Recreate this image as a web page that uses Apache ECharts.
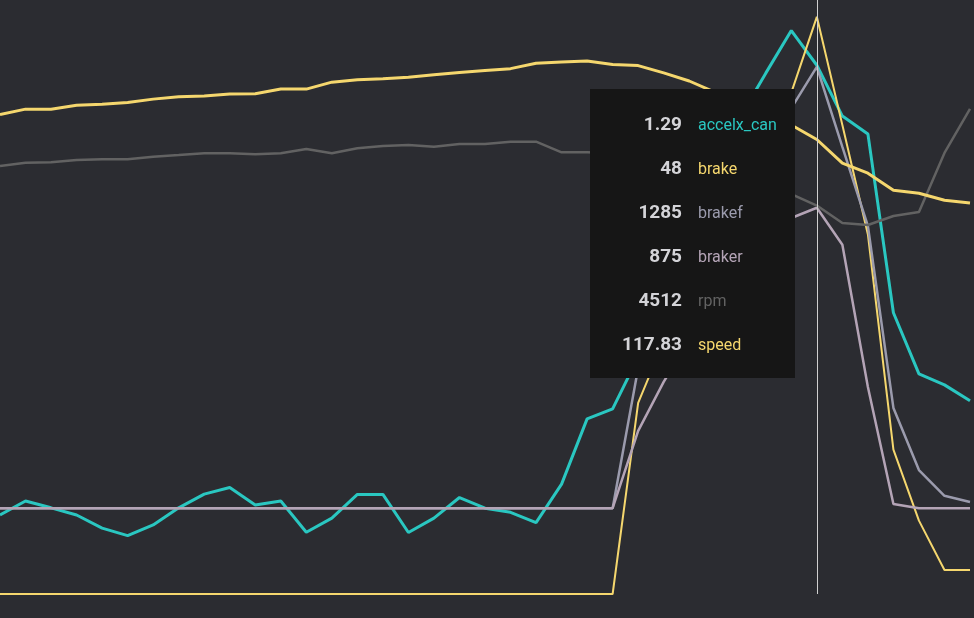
<!DOCTYPE html>
<html>
<head>
<meta charset="utf-8">
<script src="https://cdn.jsdelivr.net/npm/echarts@6/dist/echarts.min.js"></script>
<style>
	html,body{margin:0;padding:0;background:#2b2c31;}
	#main{width:974px;height:618px;}
</style>
</head>
<body>
<div id="main"></div>
<script>
// sample index along the lap (x axis, hidden)
var samples = ['0','1','2','3','4','5','6','7','8','9','10','11','12','13','14','15','16','17','18','19',
	'20','21','22','23','24','25','26','27','28','29','30','31','32','33','34','35','36','37','38'];

var accelx_can = [-0.02, 0.021, 0.001, -0.02, -0.058, -0.08, -0.049, 0.001, 0.041, 0.06,
	0.009, 0.021, -0.07, -0.029, 0.04, 0.04, -0.071, -0.029, 0.031, 0,
	-0.012, -0.042, 0.07, 0.26, 0.289, 0.44, 0.64, 0.83, 1.01, 1.14,
	1.267, 1.391, 1.29, 1.142, 1.09, 0.569, 0.391, 0.359, 0.313];
var brake = [0, 0, 0, 0, 0, 0, 0, 0, 0, 0,
	0, 0, 0, 0, 0, 0, 0, 0, 0, 0,
	0, 0, 0, 0, 0, 15.9, 21, 25.3, 29.4, 34,
	38.2, 41.7, 48, 39, 29.9, 12, 6.1, 2, 2];
var brakef = [0, 0, 0, 0, 0, 0, 0, 0, 0, 0,
	0, 0, 0, 0, 0, 0, 0, 0, 0, 0,
	0, 0, 0, 0, 0, 408, 548, 694, 839, 970,
	1072, 1165, 1285, 1052, 822, 292, 111, 36, 18];
var braker = [0, 0, 0, 0, 0, 0, 0, 0, 0, 0,
	0, 0, 0, 0, 0, 0, 0, 0, 0, 0,
	0, 0, 0, 0, 0, 225, 368, 490, 607, 709,
	787, 845, 875, 767, 353, 12, 0, 0, 0];
var rpm = [4972, 5010, 5015, 5041, 5049, 5049, 5080, 5099, 5119, 5119,
	5108, 5119, 5169, 5119, 5177, 5204, 5216, 5196, 5227, 5227,
	5254, 5254, 5131, 5131, 5123, 5099, 5041, 4972, 4891, 4809,
	4728, 4646, 4512, 4310, 4286, 4391, 4437, 5123, 5634];
var speed = [124.3, 125.7, 125.7, 126.7, 127.0, 127.4, 128.3, 128.9, 129.1, 129.6,
	129.7, 130.9, 130.9, 132.7, 133.3, 133.6, 134.0, 134.6, 135.2, 135.7,
	136.2, 137.6, 137.9, 138.2, 137.3, 137.0, 135.1, 133.0, 130.1, 127.3,
	124.4, 121.6, 117.83, 111.7, 109.1, 104.7, 103.9, 102.1, 101.4];

var cursorIndex = 32;

var colors = {
	accelx_can:'#2ac7c1',
	brake:'#f5d76e',
	brakef:'#9b9bad',
	braker:'#b4a4b6',
	rpm:'#626262',
	speed:'#f5d76e'
};

function hiddenAxis(min,max){
	return {type:'value', show:false, min:min, max:max, splitLine:{show:false}};
}

function line(name,data,axis,width){
	return {
		name:name,
		type:'line',
		yAxisIndex:axis,
		data:data,
		symbol:'none',
		silent:true,
		emphasis:{disabled:true},
		color:colors[name],
		lineStyle:{color:colors[name],width:width}
	};
}

var option = {
	backgroundColor:'#2b2c31',
	animation:false,
	grid:{left:-2,right:4,top:0,bottom:24},
	xAxis:{
		type:'category',
		data:samples,
		boundaryGap:false,
		axisLine:{show:false},
		axisTick:{show:false},
		axisLabel:{show:false},
		splitLine:{show:false}
	},
	//每个通道单独一根隐藏的y轴
	yAxis:[
		hiddenAxis(-0.25,1.48),
		hiddenAxis(0,49.4),
		hiddenAxis(-250,1480),
		hiddenAxis(0,6900),
		hiddenAxis(0,154)
	],
	tooltip:{
		trigger:'axis',
		triggerOn:'none',
		alwaysShowContent:true,
		transitionDuration:0,
		backgroundColor:'#161616',
		borderWidth:0,
		borderRadius:0,
		padding:0,
		extraCssText:'box-shadow:none;border-radius:0;',
		axisPointer:{
			type:'line',
			animation:false,
			lineStyle:{color:'#d0d0d0',width:1,type:'solid'}
		},
		position:function(pt,params,dom,rect,size){
			return [pt[0] - size.contentSize[0] - 22, 89];
		},
		formatter:function(ps){
			var s = '<div style="width:205px;padding:13px 0 12px 0;font-family:Roboto,sans-serif;">';
			for(var i=0;i<ps.length;i++){
				var p = ps[i];
				s += '<div style="height:44px;line-height:44px;white-space:nowrap;">';
				s += '<span style="display:inline-block;width:92px;text-align:right;font-weight:bold;font-size:19px;color:#d4d4d8;">' + p.value + '</span>';
				s += '<span style="margin-left:16px;font-size:16px;color:' + colors[p.seriesName] + ';">' + p.seriesName + '</span>';
				s += '</div>';
			}
			s += '</div>';
			return s;
		}
	},
	series:[
		line('accelx_can',accelx_can,0,3),
		line('brake',brake,1,2),
		line('brakef',brakef,2,2.5),
		line('braker',braker,2,2.5),
		line('rpm',rpm,3,2.5),
		line('speed',speed,4,3)
	]
};

var myChart = echarts.init(document.getElementById('main'));
myChart.setOption(option);
myChart.dispatchAction({type:'showTip',seriesIndex:0,dataIndex:cursorIndex});
</script>
</body>
</html>
